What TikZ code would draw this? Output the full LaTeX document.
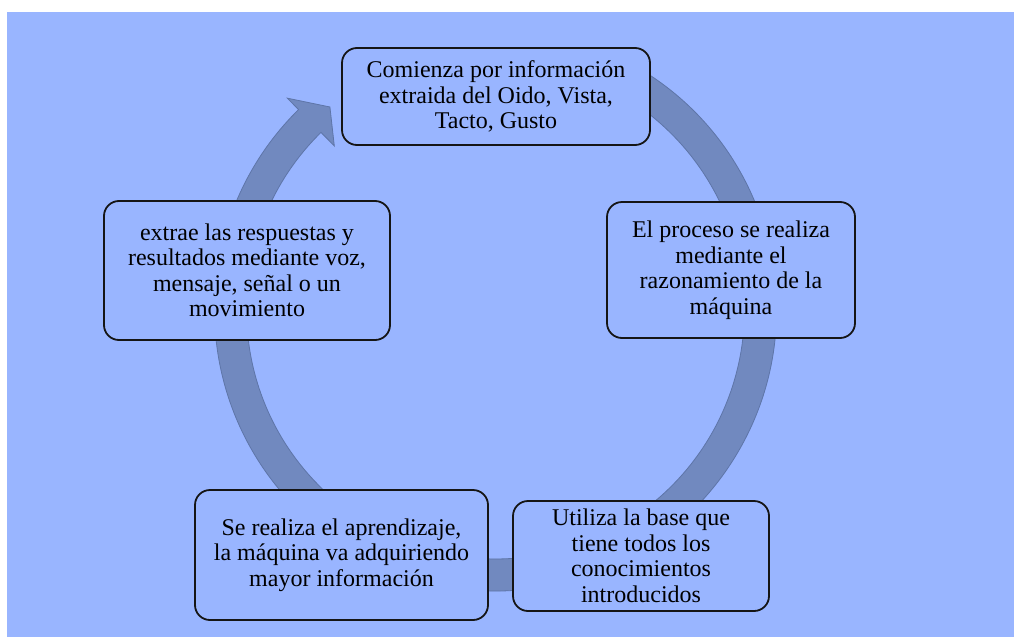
\documentclass[tikz,border=0pt]{standalone}
\usepackage{fontspec}
\setmainfont{Liberation Serif}
\definecolor{bg}{HTML}{99B5FF}
\definecolor{ringfill}{HTML}{7189BF}
\definecolor{ringedge}{HTML}{5E75A8}
\definecolor{boxline}{HTML}{151515}
\begin{document}
\begin{tikzpicture}[x=1pt,y=1pt,
  box/.style={draw=boxline, line width=1.8pt, rounded corners=15pt, fill=bg,
    align=center, inner sep=0pt, font=\fontsize{24}{25.5}\selectfont}]
\useasboundingbox (0,0) rectangle (1014,-637);
\fill[bg] (7,-12) rectangle (1014,-637);
\begin{scope}[shift={(495.5,-310)}]
\filldraw[fill=ringfill, draw=ringedge, line width=0.8pt]
  (60:281) arc[start angle=60, end angle=-225.5, radius=281]
  -- (134.5:297) -- (129.2:262) -- (134.5:230) -- (134.5:249)
  arc[start angle=-225.5, end angle=60, radius=249] -- cycle;
\end{scope}
\node[box, minimum width=308pt, minimum height=97pt] (top) at (496,-96.5)
  {Comienza por información\\extraida del Oido, Vista,\\Tacto, Gusto};
\node[box, minimum width=248pt, minimum height=136pt] (right) at (731,-270)
  {El proceso se realiza\\mediante el\\razonamiento de la\\máquina};
\node[box, minimum width=256pt, minimum height=110pt] (botright) at (641,-556)
  {Utiliza la base que\\tiene todos los\\conocimientos\\introducidos};
\node[box, minimum width=293pt, minimum height=130pt] (botleft) at (341.5,-555)
  {Se realiza el aprendizaje,\\la máquina va adquiriendo\\mayor información};
\node[box, minimum width=286pt, minimum height=139pt] (left) at (247,-270.5)
  {extrae las respuestas y\\resultados mediante voz,\\mensaje, señal o un\\movimiento};
\end{tikzpicture}
\end{document}
